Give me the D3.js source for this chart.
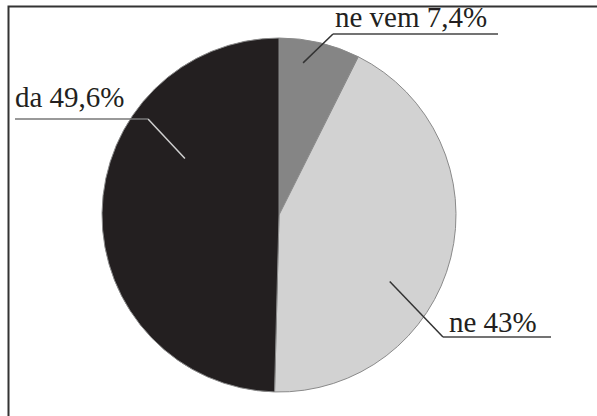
<!DOCTYPE html>
<html>
<head>
<meta charset="utf-8">
<script src="https://cdn.jsdelivr.net/npm/d3@7"></script>
<style>
  body { margin: 0; background: #fff; }
</style>
</head>
<body>
<div id="viz"></div>
<script>
const categories = ['ne vem', 'ne', 'da'];
const values = [7.4, 43, 49.6];
const labels = ['ne vem 7,4%', 'ne 43%', 'da 49,6%'];
const colors = ['#858585', '#d2d2d2', '#231f20'];

function createViz() {
  const width = 597;
  const height = 416;
  const cx = 279;
  const cy = 215;
  const radius = 177;

  const svg = d3.select('#viz')
    .append('svg')
    .attr('width', width)
    .attr('height', height);

  // frame (only top and left edges show)
  svg.append('path')
    .attr('d', `M8.5,${height} L8.5,6.5 L${width},6.5`)
    .attr('fill', 'none')
    .attr('stroke', '#333')
    .attr('stroke-width', 2);

  const data = categories.map((c, i) => ({ cat: c, value: values[i], label: labels[i], color: colors[i] }));

  const pie = d3.pie().sort(null).value(d => d.value);
  const arc = d3.arc().innerRadius(0).outerRadius(radius);

  const chart = svg.append('g')
    .attr('transform', `translate(${cx},${cy})`);

  const arcs = pie(data);

  chart.selectAll('path.slice')
    .data(arcs)
    .join('path')
    .attr('class', 'slice')
    .attr('d', arc)
    .attr('fill', d => d.data.color)
    .attr('stroke', '#8a8a8a')
    .attr('stroke-width', 1);

  // label layout: leader anchor (degrees, radius factor), elbow, underline end, text pos
  const labelLayout = {
    'ne vem': { deg: 9, rf: 0.87, elbow: [333, 34], end: [498, 34], tx: 335, ty: 27, lineColor: '#444', leadColor: '#333' },
    'ne':     { deg: 121, rf: 0.73, elbow: [443, 337], end: [551, 337], tx: 449, ty: 332, lineColor: '#444', leadColor: '#333' },
    'da':     { deg: 301, rf: 0.62, elbow: [148, 119], end: [15, 119], tx: 15, ty: 107, lineColor: '#777', leadColor: '#cfcfcf' }
  };

  arcs.forEach(a => {
    const L = labelLayout[a.data.cat];
    const ang = L.deg * Math.PI / 180;
    const p0 = [Math.sin(ang) * radius * L.rf, -Math.cos(ang) * radius * L.rf];

    chart.append('line')
      .attr('x1', p0[0]).attr('y1', p0[1])
      .attr('x2', L.elbow[0] - cx).attr('y2', L.elbow[1] - cy)
      .attr('stroke', L.leadColor)
      .attr('stroke-width', 1.5);

    chart.append('line')
      .attr('x1', L.elbow[0] - cx).attr('y1', L.elbow[1] - cy)
      .attr('x2', L.end[0] - cx).attr('y2', L.end[1] - cy)
      .attr('stroke', L.lineColor)
      .attr('stroke-width', 1.5);

    chart.append('text')
      .attr('x', L.tx - cx)
      .attr('y', L.ty - cy)
      .attr('font-family', "'Liberation Serif', 'Times New Roman', serif")
      .attr('font-size', 29)
      .attr('fill', '#231f20')
      .text(a.data.label);
  });
}

createViz();
</script>
</body>
</html>
